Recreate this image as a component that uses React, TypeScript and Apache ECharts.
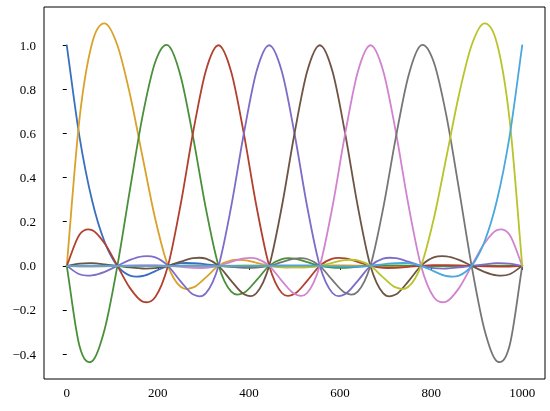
import React, { useEffect, useRef } from "react";
import * as echarts from "echarts";

const xs = [
  0, 27.78, 55.56, 83.33, 111.11, 138.89, 166.67, 194.44, 222.22, 250, 277.78, 305.56, 333.33,
  361.11, 388.89, 416.67, 444.44, 472.22, 500, 527.78, 555.56, 583.33, 611.11, 638.89, 666.67,
  694.44, 722.22, 750, 777.78, 805.56, 833.33, 861.11, 888.89, 916.67, 944.44, 972.22, 1000,
];

const basis0 = [1, 0.587, 0.296, 0.107, 0, -0.044, -0.046, -0.024, 0, 0.012, 0.012, 0.007, 0, -0.003, -0.003, -0.002, 0, 0.001, 0.001, 0.0005, 0, -0.0002, -0.0002, -0.0001, 0, 0, 0, 0, 0, 0, 0, 0, 0, 0, 0, 0, 0];
const basis1 = [0, 0.664, 1.009, 1.099, 1, 0.776, 0.491, 0.211, 0, -0.095, -0.098, -0.052, 0, 0.025, 0.026, 0.014, 0, -0.007, -0.007, -0.004, 0, 0.002, 0.002, 0.001, 0, -0.0005, -0.0005, -0.0003, 0, 0.0002, 0.0002, 0.0001, 0, -0.0001, -0.0002, -0.0002, 0];
const basis2 = [0, -0.362, -0.432, -0.286, 0, 0.348, 0.682, 0.925, 1, 0.86, 0.579, 0.258, 0, -0.117, -0.122, -0.065, 0, 0.031, 0.033, 0.017, 0, -0.008, -0.009, -0.005, 0, 0.002, 0.002, 0.001, 0, -0.0007, -0.0008, -0.0005, 0, 0.0005, 0.0008, 0.0007, 0];
const basis3 = [0, 0.141, 0.162, 0.101, 0, -0.101, -0.162, -0.141, 0, 0.278, 0.61, 0.886, 1, 0.879, 0.598, 0.268, 0, -0.123, -0.127, -0.068, 0, 0.033, 0.034, 0.018, 0, -0.009, -0.009, -0.005, 0, 0.003, 0.003, 0.002, 0, -0.002, -0.003, -0.003, 0];
const basis4 = [0, -0.038, -0.043, -0.027, 0, 0.027, 0.043, 0.038, 0, -0.07, -0.13, -0.124, 0, 0.27, 0.601, 0.882, 1, 0.881, 0.6, 0.269, 0, -0.123, -0.128, -0.068, 0, 0.033, 0.035, 0.019, 0, -0.01, -0.012, -0.007, 0, 0.007, 0.012, 0.01, 0];
const basis5 = [0, 0.01, 0.012, 0.007, 0, -0.007, -0.012, -0.01, 0, 0.019, 0.035, 0.033, 0, -0.068, -0.128, -0.123, 0, 0.269, 0.6, 0.881, 1, 0.882, 0.601, 0.27, 0, -0.124, -0.13, -0.07, 0, 0.038, 0.043, 0.027, 0, -0.027, -0.043, -0.038, 0];
const basis6 = [0, -0.003, -0.003, -0.002, 0, 0.002, 0.003, 0.003, 0, -0.005, -0.009, -0.009, 0, 0.018, 0.034, 0.033, 0, -0.068, -0.127, -0.123, 0, 0.268, 0.598, 0.879, 1, 0.886, 0.61, 0.278, 0, -0.141, -0.162, -0.101, 0, 0.101, 0.162, 0.141, 0];
const basis7 = [0, 0.0007, 0.0008, 0.0005, 0, -0.0005, -0.0008, -0.0007, 0, 0.001, 0.002, 0.002, 0, -0.005, -0.009, -0.008, 0, 0.017, 0.033, 0.031, 0, -0.065, -0.122, -0.117, 0, 0.258, 0.579, 0.86, 1, 0.925, 0.682, 0.348, 0, -0.286, -0.432, -0.362, 0];
const basis8 = [0, -0.0002, -0.0002, -0.0001, 0, 0.0001, 0.0002, 0.0002, 0, -0.0003, -0.0005, -0.0005, 0, 0.001, 0.002, 0.002, 0, -0.004, -0.007, -0.007, 0, 0.014, 0.026, 0.025, 0, -0.052, -0.098, -0.095, 0, 0.211, 0.491, 0.776, 1, 1.099, 1.009, 0.664, 0];
const basis9 = [0, 0, 0, 0, 0, 0, 0, 0, 0, 0, 0, 0, 0, 0, 0, 0, 0, 0.0005, 0.001, 0.001, 0, -0.002, -0.003, -0.003, 0, 0.007, 0.012, 0.012, 0, -0.024, -0.046, -0.044, 0, 0.107, 0.296, 0.587, 1];

const seriesValues = [basis0, basis1, basis2, basis3, basis4, basis5, basis6, basis7, basis8, basis9];

const colors = [
  "#3a6fc0", "#d9a22c", "#48903a", "#b2402e", "#7d6cc8",
  "#6e5444", "#d183cf", "#767676", "#b8c42a", "#4ba8dc",
];

const xTicks = [0, 200, 400, 600, 800, 1000];
const yTicks = [-0.4, -0.2, 0, 0.2, 0.4, 0.6, 0.8, 1.0];

const FONT = "'Liberation Serif', 'DejaVu Serif', serif";

// Smooth curve through the data points (Catmull-Rom drawn as cubic Beziers).
function smoothPath(pts: number[][]): string {
  const n = pts.length;
  let d = `M${pts[0][0].toFixed(2)},${pts[0][1].toFixed(2)}`;
  for (let j = 0; j < n - 1; j++) {
    const p0 = j > 0 ? pts[j - 1] : [2 * pts[0][0] - pts[1][0], 2 * pts[0][1] - pts[1][1]];
    const p1 = pts[j];
    const p2 = pts[j + 1];
    const p3 = j + 2 < n ? pts[j + 2] : [2 * pts[n - 1][0] - pts[n - 2][0], 2 * pts[n - 1][1] - pts[n - 2][1]];
    const c1x = p1[0] + (p2[0] - p0[0]) / 6;
    const c1y = p1[1] + (p2[1] - p0[1]) / 6;
    const c2x = p2[0] - (p3[0] - p1[0]) / 6;
    const c2y = p2[1] - (p3[1] - p1[1]) / 6;
    d += ` C${c1x.toFixed(2)},${c1y.toFixed(2)} ${c2x.toFixed(2)},${c2y.toFixed(2)} ${p2[0].toFixed(2)},${p2[1].toFixed(2)}`;
  }
  return d;
}

export default function App() {
  const ref = useRef<HTMLDivElement | null>(null);

  useEffect(() => {
    if (!ref.current) return;
    const chart = echarts.init(ref.current, null, { renderer: "svg" });
    chart.setOption({
      animation: false,
      grid: {
        left: 44,
        top: 7,
        right: 5,
        bottom: 32,
        show: true,
        borderColor: "#000",
        borderWidth: 1,
        backgroundColor: "transparent",
      },
      xAxis: {
        type: "value",
        min: -50,
        max: 1050,
        splitLine: { show: false },
        axisLine: { show: false },
        axisTick: {
          show: true,
          inside: false,
          length: 4,
          customValues: xTicks,
          lineStyle: { color: "#000", width: 1 },
        },
        axisLabel: {
          customValues: xTicks,
          margin: 7,
          fontFamily: FONT,
          fontSize: 13,
          color: "#000",
          formatter: (v: number) => String(v),
        },
      },
      yAxis: {
        type: "value",
        min: -0.513,
        max: 1.1735,
        splitLine: { show: false },
        axisLine: { show: false },
        axisTick: {
          show: true,
          inside: false,
          length: 4,
          customValues: yTicks,
          lineStyle: { color: "#000", width: 1 },
        },
        axisLabel: {
          customValues: yTicks,
          margin: 8,
          fontFamily: FONT,
          fontSize: 13,
          color: "#000",
          formatter: (v: number) =>
            (v < -1e-9 ? "\u2212" : "") + Math.abs(v).toFixed(1),
        },
      },
      series: seriesValues.map((vals, i) => ({
        type: "custom",
        name: "L" + i,
        coordinateSystem: "cartesian2d",
        data: xs.map((x, j) => [x, vals[j]]),
        z: 2 + i,
        silent: true,
        renderItem: (params: any, api: any) => {
          if (params.dataIndex !== 0) return null;
          const pts = xs.map((x, j) => api.coord([x, vals[j]]));
          return {
            type: "path",
            shape: { pathData: smoothPath(pts) },
            style: {
              stroke: colors[i],
              fill: "none",
              lineWidth: 1.8,
              lineJoin: "round",
              lineCap: "round",
            },
          };
        },
      })),
    });
    return () => chart.dispose();
  }, []);

  return (
    <div
      ref={ref}
      style={{ position: "fixed", left: 0, top: 0, width: 550, height: 411 }}
    />
  );
}
